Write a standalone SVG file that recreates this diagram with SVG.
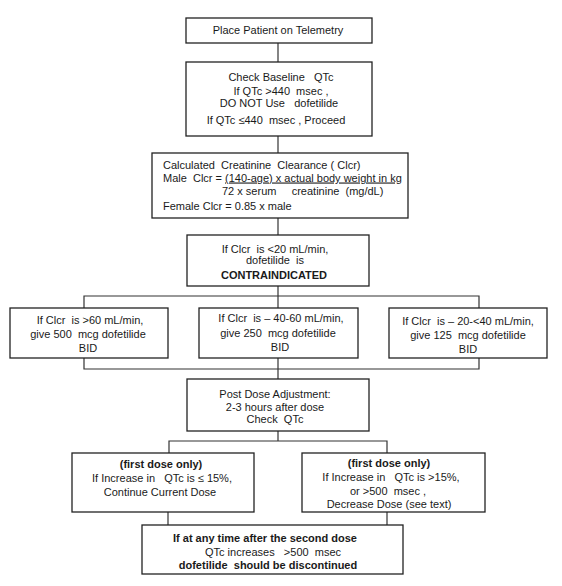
<svg xmlns="http://www.w3.org/2000/svg" width="562" height="586" viewBox="0 0 562 586">
<style>
.box{fill:#fff;stroke:#222;stroke-width:1.3}
.c{fill:none;stroke:#333;stroke-width:1.2}
text{font-family:"Liberation Sans",Arial,sans-serif;font-size:11px;fill:#1a1a1a}
.m{text-anchor:middle}
.b{font-weight:bold}
</style>
<rect width="562" height="586" fill="#fff"/>
<g id="connectors">
<line class="c" x1="278" y1="43" x2="278" y2="62"/>
<line class="c" x1="278" y1="136" x2="278" y2="153"/>
<line class="c" x1="278" y1="218" x2="278" y2="235"/>
<line class="c" x1="278" y1="286" x2="278" y2="308"/>
<polyline class="c" points="84,308 84,296 479,296 479,308"/>
<polyline class="c" points="84,358 84,369 479,369 479,358"/>
<line class="c" x1="278" y1="358" x2="278" y2="379"/>
<line class="c" x1="278" y1="431" x2="278" y2="441"/>
<polyline class="c" points="169,453 169,441 387,441 387,453"/>
<line class="c" x1="168" y1="512" x2="168" y2="525"/>
<line class="c" x1="387" y1="512" x2="387" y2="525"/>
</g>
<g id="n1">
<rect class="box" x="186" y="18" width="186" height="25"/>
<text class="m" x="278" y="34">Place Patient on Telemetry</text>
</g>
<g id="n2">
<rect class="box" x="186" y="62" width="186" height="74"/>
<text class="m" x="281" y="81" xml:space="preserve">Check Baseline   QTc</text>
<text class="m" x="281" y="95" xml:space="preserve">If QTc &gt;440  msec ,</text>
<text class="m" x="279" y="107" xml:space="preserve">DO NOT Use   dofetilide</text>
<text class="m" x="276" y="124" xml:space="preserve">If QTc ≤440  msec , Proceed</text>
</g>
<g id="n3">
<rect class="box" x="152" y="153" width="256" height="65"/>
<text x="163" y="168.5" xml:space="preserve">Calculated  Creatinine  Clearance ( Clcr)</text>
<text x="163" y="181.5" xml:space="preserve">Male  Clcr = <tspan text-decoration="underline">(140-age) x actual body weight in kg</tspan></text>
<text x="222" y="194.5" xml:space="preserve">72 x serum     creatinine  (mg/dL)</text>
<text x="163" y="209.5">Female Clcr = 0.85 x male</text>
</g>
<g id="n4">
<rect class="box" x="187" y="235" width="182" height="51"/>
<text class="m" x="275" y="252.5" xml:space="preserve">If Clcr  is &lt;20 mL/min,</text>
<text class="m" x="275" y="264" xml:space="preserve">dofetilide  is</text>
<text class="m b" x="274" y="279">CONTRAINDICATED</text>
</g>
<g id="n5">
<rect class="box" x="10" y="308" width="158" height="50"/>
<text class="m" x="90" y="323.5" xml:space="preserve">If Clcr  is &gt;60 mL/min,</text>
<text class="m" x="88" y="338" xml:space="preserve">give 500  mcg dofetilide</text>
<text class="m" x="88" y="352">BID</text>
</g>
<g id="n6">
<rect class="box" x="199" y="308" width="159" height="50"/>
<text class="m" x="281" y="322" xml:space="preserve">If Clcr  is – 40-60 mL/min,</text>
<text class="m" x="278" y="337" xml:space="preserve">give 250  mcg dofetilide</text>
<text class="m" x="280" y="351">BID</text>
</g>
<g id="n7">
<rect class="box" x="389" y="308" width="158" height="50"/>
<text class="m" x="468" y="325" xml:space="preserve">If Clcr  is – 20-&lt;40 mL/min,</text>
<text class="m" x="468" y="339" xml:space="preserve">give 125  mcg dofetilide</text>
<text class="m" x="468" y="353">BID</text>
</g>
<g id="n8">
<rect class="box" x="187" y="379" width="182" height="52"/>
<text class="m" x="275" y="398" xml:space="preserve">Post Dose Adjustment:</text>
<text class="m" x="275" y="411">2-3 hours after dose</text>
<text class="m" x="275" y="423" xml:space="preserve">Check  QTc</text>
</g>
<g id="n9">
<rect class="box" x="72" y="453" width="182" height="59"/>
<text class="m b" x="161" y="468">(first dose only)</text>
<text class="m" x="162" y="482" xml:space="preserve">If Increase in   QTc is ≤ 15%,</text>
<text class="m" x="160" y="496">Continue Current Dose</text>
</g>
<g id="n10">
<rect class="box" x="302" y="453" width="183" height="59"/>
<text class="m b" x="389" y="467">(first dose only)</text>
<text class="m" x="391" y="481" xml:space="preserve">If Increase in   QTc is &gt;15%,</text>
<text class="m" x="388" y="495" xml:space="preserve">or &gt;500  msec ,</text>
<text class="m" x="389" y="508">Decrease Dose (see text)</text>
</g>
<g id="n11">
<rect class="box" x="142" y="525" width="261" height="49"/>
<text class="m b" x="265" y="542">If at any time after the second dose</text>
<text class="m" x="273" y="556" xml:space="preserve">QTc increases   &gt;500  msec</text>
<text class="m b" x="268" y="569" xml:space="preserve">dofetilide  should be discontinued</text>
</g>
</svg>
